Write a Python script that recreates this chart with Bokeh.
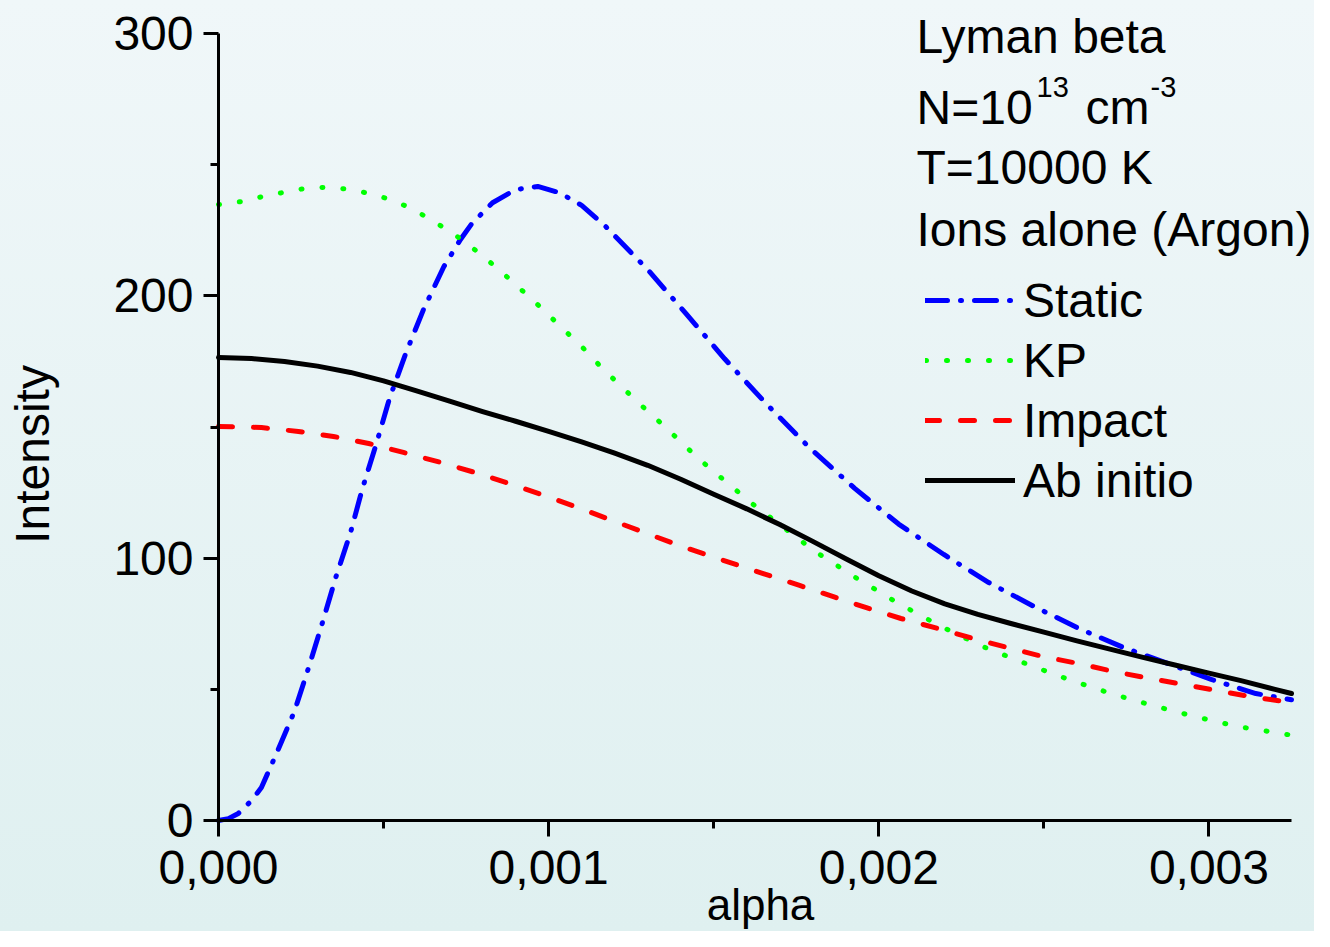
from bokeh.plotting import figure
from bokeh.models import Range1d, FixedTicker, CustomJSTickFormatter, Label, Legend, LegendItem
from bokeh.embed import file_html
from bokeh.resources import INLINE

# ---- data ----
alpha_static = [0.0, 0.00003, 0.00006, 0.0001, 0.00013, 0.000173, 0.00023, 0.000273, 0.000315, 0.000355,
                0.0004, 0.000436, 0.000479, 0.000518, 0.000567, 0.000621, 0.000682, 0.000733, 0.000767,
                0.00083, 0.0009, 0.000967, 0.001033, 0.0011, 0.00117, 0.0013, 0.001418, 0.001533, 0.001658,
                0.001791, 0.001927, 0.00206, 0.002197, 0.002333, 0.00247, 0.002606, 0.00274, 0.002876,
                0.003009, 0.003142, 0.00325]
int_static = [0.0, 0.7, 2.7, 7.6, 12.6, 24.8, 41.6, 58.3, 75.5, 92.6,
              109.8, 126.6, 144.0, 160.9, 178.0, 194.8, 211.0, 221.5, 227.5,
              235.5, 240.5, 241.7, 239.3, 234.5, 226.8, 210.0, 192.9, 176.0, 159.0,
              142.0, 126.6, 113.0, 101.4, 90.7, 81.6, 73.2, 66.0, 59.8,
              53.7, 48.4, 46.0]

alpha_kp = [0.0, 0.0000727, 0.000135, 0.0002, 0.000264, 0.00033, 0.000394, 0.000458, 0.000521, 0.000585,
            0.000648, 0.000715, 0.000779, 0.000842, 0.000906, 0.00097, 0.001033, 0.0011, 0.00116, 0.001224,
            0.001288, 0.001355, 0.001418, 0.001482, 0.001548, 0.001612, 0.001676, 0.00174, 0.001803, 0.00193,
            0.00206, 0.002188, 0.002315, 0.002445, 0.002576, 0.002703, 0.00283, 0.002958, 0.003088, 0.003218,
            0.00325]
int_kp = [234.8, 236.0, 237.9, 239.5, 241.0, 241.4, 240.6, 239.0, 236.7, 233.3,
          228.7, 223.4, 217.3, 210.8, 203.6, 196.3, 188.7, 180.7, 172.7, 165.0,
          157.4, 149.8, 142.2, 134.9, 128.0, 121.2, 115.1, 109.0, 102.9, 92.6,
          82.7, 74.0, 66.3, 59.8, 53.7, 48.4, 43.8, 39.6, 35.8, 33.2,
          32.5]

alpha_impact = [0.0, 0.00013, 0.000242, 0.000348, 0.000455, 0.00056, 0.000673, 0.0008, 0.0009, 0.001,
                0.001097, 0.001209, 0.001315, 0.001421, 0.00155, 0.00165, 0.00176, 0.00186, 0.00196,
                0.002067, 0.002179, 0.002285, 0.002391, 0.002497, 0.002606, 0.002712, 0.002821, 0.002927,
                0.003036, 0.003142, 0.00325]
int_impact = [150.2, 149.8, 148.3, 146.4, 143.7, 140.3, 136.5, 131.8, 127.6, 123.3,
              118.9, 113.6, 108.6, 103.7, 98.3, 94.1, 89.6, 85.4, 81.2,
              77.0, 73.2, 69.4, 65.9, 62.5, 59.8, 56.8, 54.1, 51.8,
              49.2, 46.9, 45.0]

alpha_abinitio = [0.0, 0.0001, 0.0002, 0.0003, 0.0004, 0.0005, 0.0006, 0.0007, 0.0008, 0.0009,
                  0.001, 0.0011, 0.0012, 0.0013, 0.0014, 0.0015, 0.0016, 0.0017, 0.0018, 0.0019,
                  0.002, 0.0021, 0.0022, 0.0023, 0.0024, 0.0025, 0.0026, 0.0027, 0.0028, 0.0029,
                  0.003, 0.0031, 0.0032, 0.00325]
int_abinitio = [176.5, 176.1, 175.0, 173.2, 170.8, 167.6, 163.8, 159.9, 155.9, 152.2,
                148.3, 144.3, 140.0, 135.4, 130.1, 124.4, 118.8, 112.8, 106.4, 99.8,
                93.3, 87.5, 82.6, 78.6, 75.1, 71.8, 68.5, 65.3, 62.2, 59.2,
                56.2, 53.2, 50.0, 48.4]

x_major = [0.0, 0.001, 0.002, 0.003]
x_minor = [0.0005, 0.0015, 0.0025]
y_major = [0, 100, 200, 300]
y_minor = [50, 150, 250]

series_names = ["Static", "KP", "Impact", "Ab initio"]
header_lines = ["Lyman beta", "T=10000 K", "Ions alone (Argon)"]

FONT = "Liberation Sans"

X_END = 0.00325
Y_END = 300.0

# plot geometry (pixels): axis origin at (218, 820), x end at 1291, y end at 33
W, H = 1314, 931
OX, OY = 218, 820
XPP = X_END / (1291 - OX)
YPP = Y_END / (OY - 33)


def dx(px):
    return (px - OX) * XPP


def dy(py):
    return (OY - py) * YPP


p = figure(width=W, height=H, output_backend="svg", toolbar_location=None,
           x_range=Range1d(dx(0), dx(W)), y_range=Range1d(dy(H), dy(0)),
           min_border_left=0, min_border_right=0, min_border_top=0, min_border_bottom=0)

p.background_fill_alpha = 0
p.border_fill_alpha = 0
p.styles = {"background-image": "linear-gradient(to bottom, #f0f7f9, #dff0f0)"}
p.outline_line_color = None
p.xgrid.visible = False
p.ygrid.visible = False

for ax in (p.xaxis[0], p.yaxis[0]):
    ax.fixed_location = 0
    ax.axis_line_width = 3
    ax.axis_line_color = "black"
    ax.major_tick_line_width = 3
    ax.minor_tick_line_width = 3
    ax.major_tick_line_color = "black"
    ax.minor_tick_line_color = "black"
    ax.major_tick_in = 0
    ax.minor_tick_in = 0
    ax.minor_tick_out = 8
    ax.major_label_text_font = FONT
    ax.major_label_text_font_size = "48px"
    ax.major_label_text_color = "black"

xa = p.xaxis[0]
ya = p.yaxis[0]
xa.bounds = (0.0, X_END)
ya.bounds = (0.0, Y_END)
xa.major_tick_out = 16
ya.major_tick_out = 15
xa.ticker = FixedTicker(ticks=x_major, minor_ticks=x_minor)
ya.ticker = FixedTicker(ticks=y_major, minor_ticks=y_minor)
xa.formatter = CustomJSTickFormatter(code="return tick.toFixed(3).replace('.', ',');")
xa.major_label_standoff = 14
ya.major_label_standoff = 10

lw = 5
r_static = p.line(alpha_static, int_static, line_color="#0000ff", line_width=lw,
                  line_dash="22 13 1 13", line_cap="round", line_join="round")
r_kp = p.line(alpha_kp, int_kp, line_color="#00ff00", line_width=5,
              line_dash="1 20", line_cap="round", line_join="round")
r_imp = p.line(alpha_impact, int_impact, line_color="#ff0000", line_width=lw,
               line_dash="14 21", line_cap="round", line_join="round")
r_ab = p.line(alpha_abinitio, int_abinitio, line_color="black", line_width=lw,
              line_cap="round", line_join="round")

legend = Legend(items=[LegendItem(label=series_names[0], renderers=[r_static]),
                       LegendItem(label=series_names[1], renderers=[r_kp]),
                       LegendItem(label=series_names[2], renderers=[r_imp]),
                       LegendItem(label=series_names[3], renderers=[r_ab])],
                location=(925, H - 510), padding=0, margin=0, spacing=0,
                glyph_width=90, glyph_height=60, label_height=60, label_standoff=8,
                label_text_font=FONT, label_text_font_size="48px", label_text_color="black",
                background_fill_alpha=0, border_line_alpha=0)
p.add_layout(legend)


# Label "alphabetic" renders ~0.38 em lower than requested; compensate
def add_text(text, px, py, size=48, align="left", angle=0.0):
    shift = 0.38 * size
    if angle:
        x, y = dx(px - shift), dy(py)
    else:
        x, y = dx(px), dy(py - shift)
    p.add_layout(Label(x=x, y=y, text=text, text_font=FONT, text_font_size=f"{size}px",
                       text_color="black", text_align=align, text_baseline="alphabetic", angle=angle))


add_text(header_lines[0], 916, 54)
add_text("N=10", 916, 125)
add_text("13", 1036, 98, size=29)
add_text("cm", 1085, 125)
add_text("-3", 1150, 98, size=29)
add_text(header_lines[1], 916, 185)
add_text(header_lines[2], 916, 247)

add_text("Intensity", 50, 454, size=48, align="center", angle=1.5707963)
add_text("alpha", 760, 921, size=44, align="center")

open("out.html", "w").write(file_html(p, INLINE))
